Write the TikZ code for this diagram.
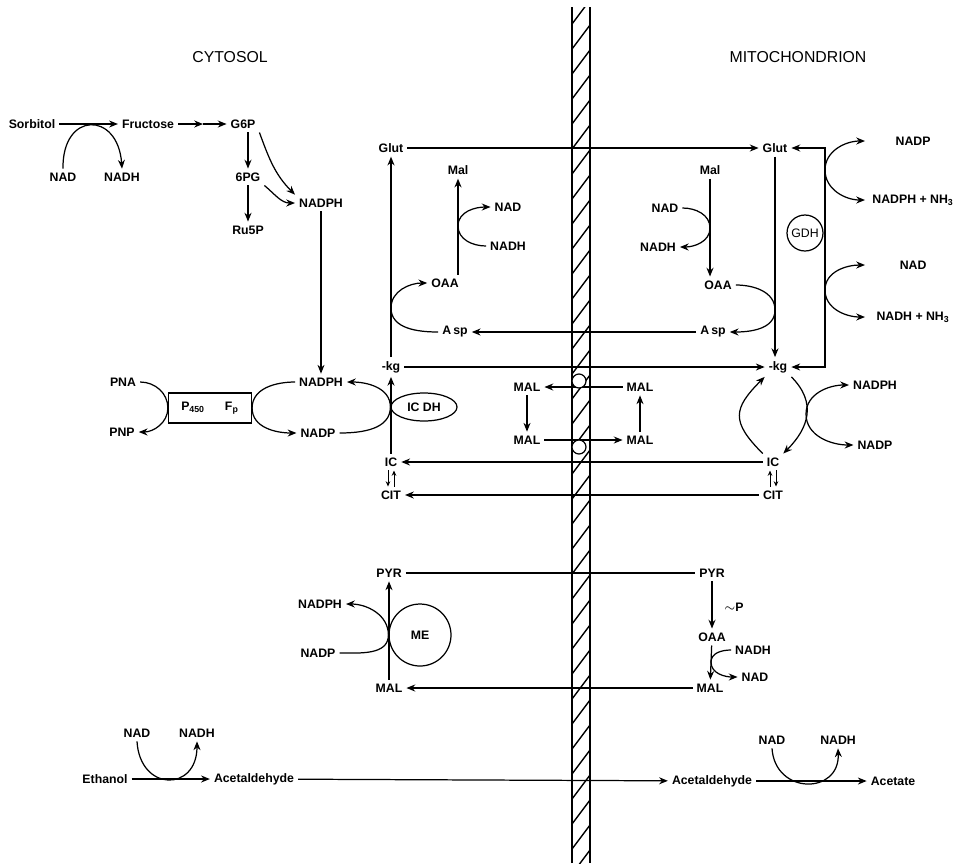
\documentclass[tikz,border=0pt]{standalone}
\usepackage{fontspec}
\setmainfont{Liberation Sans}
\usetikzlibrary{arrows.meta,shapes.geometric}
\newcommand{\lblfont}{\fontsize{7}{8}\selectfont\bfseries}
\newcommand{\ttlfont}{\fontsize{9}{11}\selectfont}

\begin{document}
\begin{tikzpicture}[x=0.02cm,y=0.02cm,>={Stealth[length=5pt,width=4pt]},line width=0.7pt,
  every node/.style={font=\lblfont,inner sep=2pt},
  rgt/.style={anchor=west,minimum width=1.9cm,inner sep=0pt},
  tip/.style={->,line width=0.5pt,>={Stealth[length=3pt,width=2.6pt]}},
  pore/.style={draw,circle,fill=white,minimum size=0.28cm,inner sep=0pt}]
\useasboundingbox (0,0) rectangle (959,-863);
% Membrana
\begin{scope}
\clip (572,-7) rectangle (590,-863);
\foreach \y in {0,25,...,900} \draw[line width=0.8pt] (572,-\y-24) -- (590,-\y);
\end{scope}
\draw[line width=1.3pt] (572,-863) -- (572,-7);
\draw[line width=1.3pt] (590,-863) -- (590,-7);
\node[font=\ttlfont] (cyt) at (230,-57) {CYTOSOL};
\node[font=\ttlfont] (mit) at (798,-57) {MITOCHONDRION};
% Sorbitol i via de les pentoses
\node (sorb) at (32,-124) {Sorbitol};
\node (fruc) at (148,-124) {Fructose};
\node (g6p) at (243,-124) {G6P};
\node (pgb) at (248,-177) {6PG};
\node (rup) at (248,-230) {Ru5P};
\node (nadA) at (63,-177) {NAD};
\node (nadhA) at (122,-177) {NADH};
\node (nadphA) at (321,-203) {NADPH};
\coordinate (fg) at (203,-124);
\draw[->] (sorb) -- (fruc);
\draw[->] (fruc) -- (fg);
\draw[->] (fg) -- (g6p);
\draw[->] (nadA.north) .. controls (62,-111) and (118,-111) .. (nadhA.north);
\draw[->] (g6p.south -| pgb) -- (pgb);
\draw[->] (pgb) -- (rup);
\draw[->] (g6p.south east) to[out=-70,in=135] (nadphA.north west);
\draw[->] (pgb.south east) to[out=-40,in=180] (nadphA.west);
% P450
\node (pna) at (123,-382) {PNA};
\node (pnp) at (122,-432) {PNP};
\node[draw,minimum width=1.66cm,minimum height=0.6cm,inner sep=0pt] (p450) at (210,-408) {P\textsubscript{450}\hspace{0.4cm}F\textsubscript{p}};
\node (nadphB) at (321,-382) {NADPH};
\node (nadpB) at (318,-433) {NADP};
\draw[->] (nadphA) -- (nadphB);
\draw[->] (pna.east) to[out=0,in=90] (p450.west) to[out=-90,in=0] (pnp.east);
\draw[->] (nadphB.west) to[out=180,in=90] (p450.east) to[out=-90,in=180] (nadpB.west);
% ICDH citosolica
\node (glutA) at (391,-148) {Glut};
\node (akgA) at (391,-367) {-kg};
\node (icA) at (391,-462) {IC};
\node (citA) at (391,-495) {CIT};
\node[draw,ellipse,minimum width=1.32cm,minimum height=0.56cm,inner sep=0pt] (icdh) at (424,-407) {IC DH};
\draw[->] (icA) -- (akgA);
\draw[->] (akgA) -- (glutA);
\draw[->] (nadpB.east) to[out=0,in=-90] (icdh.west) to[out=90,in=0] (nadphB.east);
\draw[tip] ([xshift=-0.06cm]icA.south) -- ([xshift=-0.06cm]citA.north);
\draw[tip] ([xshift=0.06cm]citA.north) -- ([xshift=0.06cm]icA.south);
% Aspartat i malat
\node (malA) at (458,-170) {Mal};
\node (nadB) at (508,-207) {NAD};
\node (nadhB) at (508,-246) {NADH};
\node (oaaA) at (445,-283) {OAA};
\node (aspA) at (455,-332) {A\,sp};
\coordinate (tA) at (458,-226);
\coordinate (tB) at (391,-308);
\draw[->] (oaaA.north -| malA) -- (malA);
\draw[->] (nadhB.west) to[out=180,in=-90] (tA) to[out=90,in=180] (nadB.west);
\draw[->] (aspA.west) to[out=180,in=-90] (tB) to[out=90,in=180] (oaaA.west);
\node (glutB) at (775,-148) {Glut};
\node (malB) at (710,-170) {Mal};
\node (nadC) at (665,-208) {NAD};
\node (nadhC) at (658,-247) {NADH};
\node (oaaB) at (718,-285) {OAA};
\node (aspB) at (713,-332) {A\,sp};
\node (akgB) at (778,-367) {-kg};
\coordinate (tC) at (710,-228);
\coordinate (tD) at (775,-310);
\draw[->] (malB) -- (malB |- oaaB.north);
\draw[->] (nadC.east) to[out=0,in=90] (tC) to[out=-90,in=0] (nadhC.east);
\draw[->] (oaaB.east) to[out=0,in=90] (tD) to[out=-90,in=0] (aspB.east);
\draw[->] (glutB) -- (glutB |- akgB.north);
\draw[->] (glutA) -- (glutB);
\draw[->] (aspB) -- (aspA);
\draw[->] (akgA) -- (akgB);
% GDH
\coordinate (gdhx) at (825,-250);
\draw[<->] (glutB) -| (gdhx) |- (akgB);
\node[draw,circle,minimum size=0.72cm,inner sep=0pt,font=\fontsize{7}{8}\selectfont] (gdh) at (805,-233) {GDH};
\node[rgt] (nadpC) at (865,-141) {NADP};
\node[rgt] (nadphC) at (865,-200) {NADPH + NH\textsubscript{3}};
\node[rgt] (nadD) at (865,-265) {NAD};
\node[rgt] (nadhD) at (865,-317) {NADH + NH\textsubscript{3}};
\coordinate (tE) at (825,-170);
\coordinate (tF) at (825,-290);
\draw[<->] (nadpC.west) to[out=180,in=90] (tE) to[out=-90,in=180] (nadphC.west);
\draw[<->] (nadD.west) to[out=180,in=90] (tF) to[out=-90,in=180] (nadhD.west);
% ICDH mitocondrial
\node (icB) at (773,-462) {IC};
\node (citB) at (773,-495) {CIT};
\node (nadphD) at (875,-385) {NADPH};
\node (nadpD) at (875,-445) {NADP};
\coordinate (tG) at (806,-414);
\draw[->] (icB.north west) to[out=135,in=-135,looseness=1.5] (akgB.south west);
\draw[->] (akgB.south east) to[out=-45,in=45,looseness=1.2] (icB.north east);
\draw[<->] (nadphD.west) to[out=180,in=90] (tG) to[out=-90,in=180] (nadpD.west);
\draw[tip] ([xshift=-0.06cm]citB.north) -- ([xshift=-0.06cm]icB.south);
\draw[tip] ([xshift=0.06cm]icB.south) -- ([xshift=0.06cm]citB.north);
\draw[->] (icB) -- (icA);
\draw[->] (citB) -- (citA);
% Llançadora de malat
\node (malC) at (527,-387) {MAL};
\node (malD) at (527,-440) {MAL};
\node (malE) at (640,-387) {MAL};
\node (malF) at (640,-440) {MAL};
\draw[->] (malE) -- (malC);
\draw[->] (malC) -- (malD);
\draw[->] (malD) -- (malF);
\draw[->] (malF) -- (malE);
\node[pore] (porA) at (579,-381) {};
\node[pore] (porB) at (579,-447) {};
% Enzim malic
\node (pyrA) at (389,-573) {PYR};
\node (malG) at (389,-688) {MAL};
\node[draw,circle,minimum size=1.24cm,inner sep=0pt] (me) at (420,-635) {ME};
\node (nadphE) at (320,-604) {NADPH};
\node (nadpE) at (318,-653) {NADP};
\draw[->] (malG) -- (pyrA);
\draw[->] (nadpE.east) to[out=0,in=-90] (me.west) to[out=90,in=0] (nadphE.east);
\node (pyrB) at (712,-573) {PYR};
\node (pP) at (734,-607) {$\sim$P};
\node (oaaC) at (712,-637) {OAA};
\node (malH) at (710,-688) {MAL};
\node (nadhE) at (753,-650) {NADH};
\node (nadE) at (755,-677) {NAD};
\coordinate (tH) at (711,-662);
\draw (pyrA) -- (pyrB);
\draw[->] (pyrB) -- (oaaC);
\draw[->] (oaaC) -- (malH);
\draw[->] (nadhE.west) to[out=180,in=90] (tH) to[out=-90,in=180] (nadE.west);
\draw[->] (malH) -- (malG);
% Etanol
\node (eth) at (105,-779) {Ethanol};
\node (acetA) at (254,-779) {Acetaldehyde};
\node (nadF) at (137,-733) {NAD};
\node (nadhF) at (197,-733) {NADH};
\draw[->] (eth) -- (acetA);
\draw[->] (nadF.south) .. controls (140,-792) and (197,-792) .. (nadhF.south);
\node (acetB) at (712,-781) {Acetaldehyde};
\node (acetC) at (893,-781) {Acetate};
\node (nadG) at (772,-740) {NAD};
\node (nadhG) at (838,-740) {NADH};
\draw[->] (acetA) -- (acetB);
\draw[->] (acetB) -- (acetC);
\draw[->] (nadG.south) .. controls (775,-795) and (840,-795) .. (nadhG.south);
\end{tikzpicture}
\end{document}
